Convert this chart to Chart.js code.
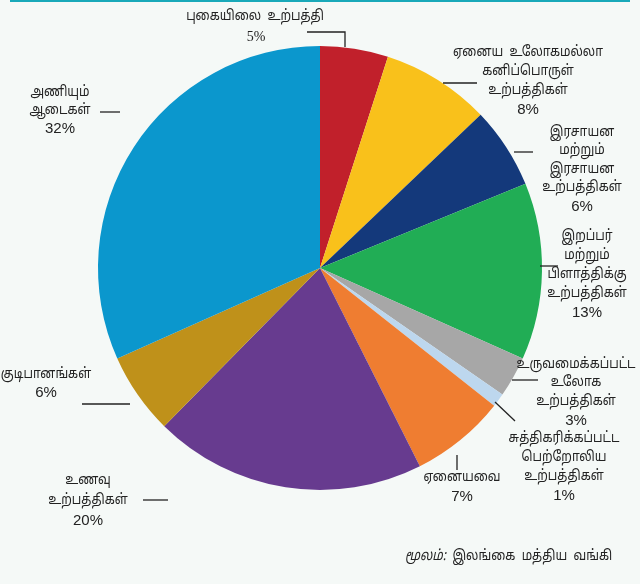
<!DOCTYPE html>
<html lang="ta">
<head>
<meta charset="UTF-8">
<title>உற்பத்திகள் - பங்கு</title>
<script src="https://cdn.jsdelivr.net/npm/chart.js"></script>
<style>
    body { margin: 0; background: #f5f9f7; }
    #wrap { width: 640px; height: 584px; }
</style>
</head>
<body>
<div id="wrap"><canvas id="pieChart" width="640" height="584"></canvas></div>
<script>
    // données
    const categories = [
        ["புகையிலை  உற்பத்தி"],
        ["ஏனைய  உலோகமல்லா", "கனிப்பொருள்", "உற்பத்திகள்"],
        ["இரசாயன", "மற்றும்", "இரசாயன", "உற்பத்திகள்"],
        ["இறப்பர்", "மற்றும்", "பிளாத்திக்கு", "உற்பத்திகள்"],
        ["உருவமைக்கப்பட்ட", "உலோக", "உற்பத்திகள்"],
        ["சுத்திகரிக்கப்பட்ட", "பெற்றோலிய", "உற்பத்திகள்"],
        ["ஏனையவை"],
        ["உணவு", "உற்பத்திகள்"],
        ["குடிபானங்கள்"],
        ["அணியும்", "ஆடைகள்"]
    ];
    const shares = [5, 8, 6, 13, 3, 1, 7, 20, 6, 32];
    const colors = ['#c1202b', '#f9c11b', '#14397b', '#21ad55', '#a7a7a7', '#bdd7ee', '#ef7d31', '#673b8f', '#bf911a', '#0b97cd'];
    const source = "இலங்கை  மத்திய  வங்கி";

    // placement des étiquettes (x centre, y première ligne, lignes de rappel)
    const labelLayout = [
        { x: 255, y: 17, lh: 20, line: [[307, 32], [345, 32], [345, 47]] },
        { x: 528, y: 53, lh: 19, line: [[443, 83], [477, 83]] },
        { x: 582, y: 133, lh: 18.5, line: [[514, 152], [533, 152]] },
        { x: 587, y: 237, lh: 19, line: [[540, 266], [558, 266]] },
        { x: 576, y: 365, lh: 18.5, line: [[512, 380], [538, 380]] },
        { x: 564, y: 439, lh: 19, line: [[495, 402], [515, 421]] },
        { x: 462, y: 478, lh: 19, line: [[457, 455], [457, 470]] },
        { x: 88, y: 481, lh: 20, line: [[143, 500], [168, 500]] },
        { x: 46, y: 375, lh: 18, line: [[82, 404], [130, 404]] },
        { x: 60, y: 93, lh: 18, line: [[100, 112], [120, 112]] }
    ];

    const FONT = '"Noto Sans Tamil", "Lohit Tamil", "Liberation Sans", sans-serif';
    const SQUEEZE = 0.84;

    // texte tamoul un peu resserré, comme dans l'original
    function narrowText(ctx, t, x, y, align) {
        ctx.save();
        ctx.translate(x, y);
        ctx.scale(SQUEEZE, 1);
        ctx.textAlign = align || 'center';
        ctx.fillText(t, 0, 0);
        ctx.restore();
    }

    const decor = {
        id: 'decor',
        beforeDraw(chart) {
            const ctx = chart.ctx;
            ctx.save();
            ctx.fillStyle = '#f5f9f7';
            ctx.fillRect(0, 0, chart.width, chart.height);
            ctx.fillStyle = '#19a9b9';
            ctx.fillRect(10, 0, 620, 2);
            ctx.restore();
        },
        afterDraw(chart) {
            const ctx = chart.ctx;
            ctx.save();
            ctx.strokeStyle = '#222';
            ctx.lineWidth = 1.3;
            ctx.fillStyle = '#222';
            ctx.textAlign = 'center';
            ctx.textBaseline = 'middle';
            labelLayout.forEach((lay, i) => {
                ctx.beginPath();
                lay.line.forEach((p, k) => k ? ctx.lineTo(p[0], p[1]) : ctx.moveTo(p[0], p[1]));
                ctx.stroke();
                const lines = categories[i];
                ctx.font = '14.5px ' + FONT;
                lines.forEach((t, k) => narrowText(ctx, t, lay.x, lay.y + k * lay.lh));
                const pct = shares[i] + '%';
                if (i === 0) {
                    ctx.font = '14px "Liberation Serif", serif';
                    ctx.fillText(pct, lay.x + 1, lay.y + 20);
                } else {
                    ctx.font = '15px "Liberation Sans", Arial, sans-serif';
                    ctx.fillText(pct, lay.x, lay.y + lines.length * lay.lh);
                }
            });
            // source
            ctx.font = 'italic 14.5px ' + FONT;
            narrowText(ctx, 'மூலம்:', 405, 557, 'left');
            const w = ctx.measureText('மூலம்:  ').width * SQUEEZE;
            ctx.font = '14.5px ' + FONT;
            narrowText(ctx, source, 405 + w, 557, 'left');
            ctx.restore();
        }
    };

    new Chart(document.getElementById('pieChart'), {
        type: 'pie',
        data: {
            labels: categories.map(c => c.join(' ')),
            datasets: [{
                data: shares,
                backgroundColor: colors,
                borderWidth: 0
            }]
        },
        options: {
            responsive: false,
            animation: false,
            layout: { padding: { left: 98, right: 98, top: 46, bottom: 94 } },
            plugins: {
                legend: { display: false },
                tooltip: { enabled: false }
            }
        },
        plugins: [decor]
    });
</script>
</body>
</html>
